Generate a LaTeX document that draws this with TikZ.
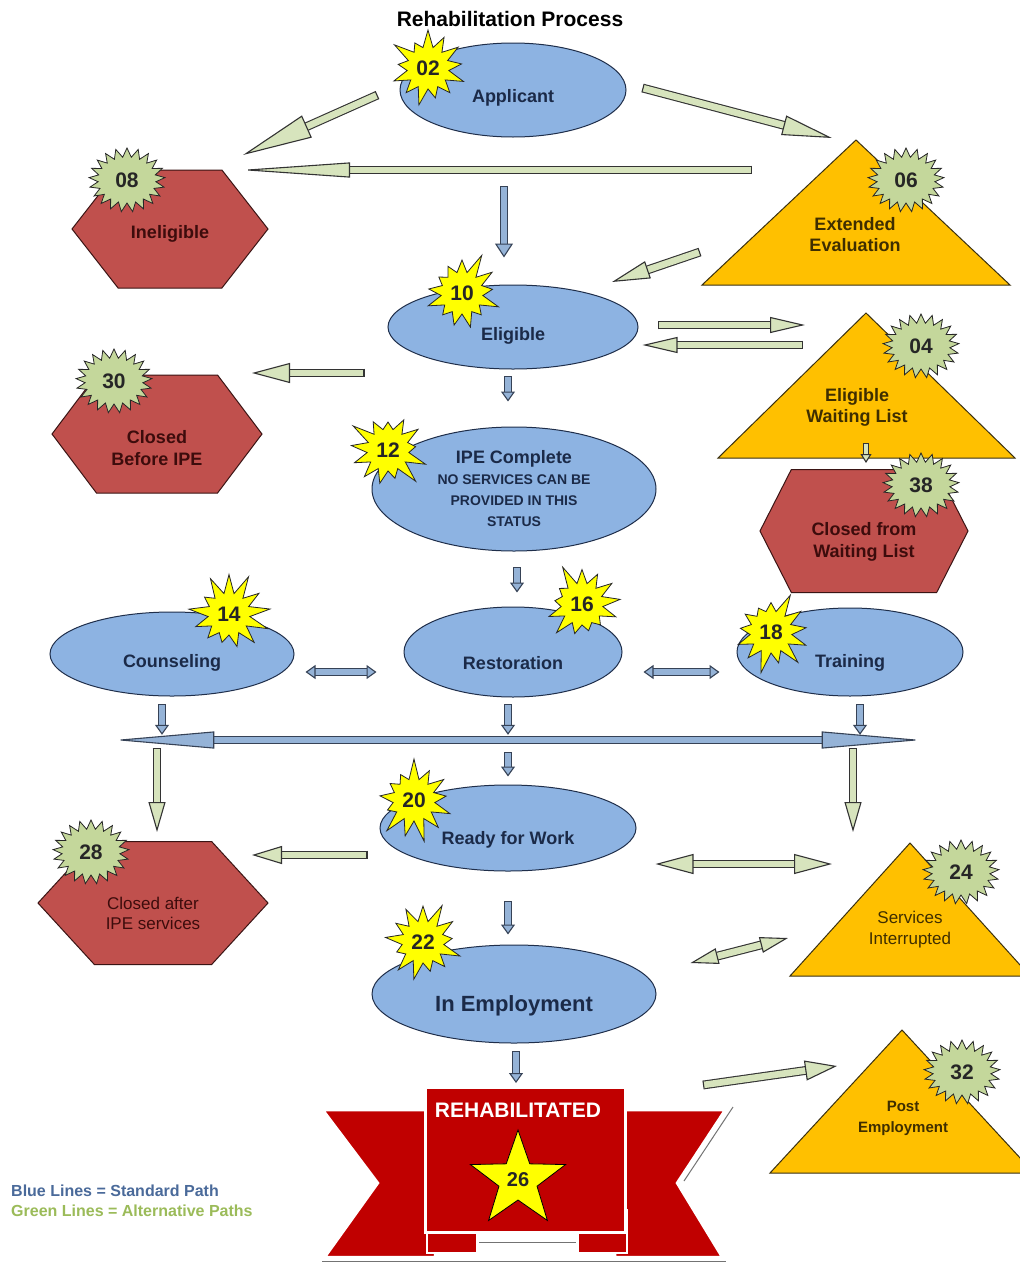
\documentclass[tikz,border=0pt]{standalone}
\usepackage{fontspec}
\setmainfont{Liberation Sans}
\usetikzlibrary{positioning,arrows.meta,shapes.geometric,shapes.symbols,calc}

\definecolor{ellblue}{HTML}{8DB3E2}
\definecolor{ellline}{HTML}{1F2E4A}
\definecolor{ellink}{HTML}{1B2A48}
\definecolor{hexred}{HTML}{C0504D}
\definecolor{hexline}{HTML}{3A1414}
\definecolor{hexink}{HTML}{3D0C0C}
\definecolor{triorange}{HTML}{FFC000}
\definecolor{triline}{HTML}{3A3010}
\definecolor{triink}{HTML}{3F2E00}
\definecolor{burstyel}{HTML}{FFFF00}
\definecolor{burstgrn}{HTML}{C4D79B}
\definecolor{gfill}{HTML}{D7E4BD}
\definecolor{gline}{HTML}{333333}
\definecolor{bfill}{HTML}{95B3D7}
\definecolor{bline}{HTML}{364256}
\definecolor{ribred}{HTML}{C00000}
\definecolor{legblue}{HTML}{4A6A9A}
\definecolor{leggreen}{HTML}{9BBB59}

\begin{document}
\begin{tikzpicture}[x=1pt, y=-1pt,
    state/.style={ellipse, draw=ellline, line width=1pt, fill=ellblue, inner sep=0pt,
                  text=ellink, align=center, font=\bfseries\fontsize{18}{21}\selectfont},
    drop/.style={text height=#1, text depth=0pt},
    hex/.style={signal, signal to=east and west, draw=hexline, line width=1pt,
                fill=hexred, inner sep=0pt},
    hexlab/.style={text=hexink, align=center, font=\bfseries\fontsize{18}{22}\selectfont},
    tri/.style={draw=triline, line width=1pt, fill=triorange},
    trilab/.style={text=triink, align=center, font=\bfseries\fontsize{18}{21}\selectfont},
    burst/.style={starburst, draw=black!85, line width=.8pt, inner sep=0pt, text=black!85,
                  font=\bfseries\fontsize{21}{24}\selectfont},
    yburst/.style={burst, fill=burstyel, starburst points=13, starburst point height=22pt,
                   minimum width=86pt, minimum height=86pt},
    gburst/.style={burst, fill=burstgrn, starburst points=21, starburst point height=9pt,
                   random starburst=0, minimum width=76pt, minimum height=64pt},
    ribbon/.style={fill=ribred, draw=white, line width=2.5pt},
    ribshade/.style={draw=black!55, line width=1pt},
    bshaft/.style={draw=bline, line width=1.1pt, double=bfill, double distance=5.6pt},
    barr/.style 2 args={bshaft, {Bar[width=7.8pt,line width=1.1pt]}-{Triangle[length=#1,width=#2,fill=bfill,line width=1.1pt]}},
    bdbl/.style 2 args={bshaft, {Triangle[length=#1,width=#2,fill=bfill,line width=1.1pt]}-{Triangle[length=#1,width=#2,fill=bfill,line width=1.1pt]}},
    gshaft/.style={draw=gline, line width=1.1pt, double=gfill, double distance=6.6pt},
    garr/.style 2 args={gshaft, {Bar[width=8.8pt,line width=1.1pt]}-{Triangle[length=#1,width=#2,fill=gfill,line width=1.1pt]}},
    gdbl/.style 2 args={gshaft, {Triangle[length=#1,width=#2,fill=gfill,line width=1.1pt]}-{Triangle[length=#1,width=#2,fill=gfill,line width=1.1pt]}}
]
\useasboundingbox[fill=white] (0,0) rectangle (1020,1264);

\node[font=\bfseries\fontsize{21}{24}\selectfont] (title) at (510,19) {Rehabilitation Process};

\node[state, drop=25pt, minimum width=226pt, minimum height=94pt] (app) at (513,90) {Applicant};
\node[state, drop=27pt, minimum width=250pt, minimum height=84pt] (elig) at (513,327) {Eligible};
\node[state, minimum width=284pt, minimum height=124pt] (ipe) at (514,489)
     {IPE Complete\\ \fontsize{14}{18}\selectfont NO SERVICES CAN BE\\ \fontsize{14}{18}\selectfont PROVIDED IN THIS\\ \fontsize{14}{18}\selectfont STATUS};
\node[state, drop=27pt, minimum width=244pt, minimum height=84pt] (couns) at (172,654) {Counseling};
\node[state, drop=35pt, minimum width=218pt, minimum height=90pt] (resto) at (513,652) {Restoration};
\node[state, drop=31pt, minimum width=226pt, minimum height=88pt] (train) at (850,652) {Training};
\node[state, drop=33pt, minimum width=256pt, minimum height=86pt] (ready) at (508,828) {Ready for Work};
\node[state, drop=35pt, minimum width=284pt, minimum height=98pt,
      font=\bfseries\fontsize{22}{26}\selectfont] (emp) at (514,994) {In Employment};

\node[hex, minimum width=196pt, minimum height=118pt, signal pointer angle=104] (inel) at (170,229) {};
\node[hexlab] (inel-t) at ([yshift=-5pt]inel) {Ineligible};
\node[hex, minimum width=210pt, minimum height=118pt, signal pointer angle=106] (cbi) at (157,434) {};
\node[hexlab] (cbi-t) at ([yshift=-14pt]cbi) {Closed\\Before IPE};
\node[hex, minimum width=208pt, minimum height=123pt, signal pointer angle=126] (cwl) at (864,531) {};
\node[hexlab] (cwl-t) at ([yshift=-11pt]cwl) {Closed from\\Waiting List};
\node[hex, minimum width=230pt, minimum height=123pt, signal pointer angle=95] (cai) at (153,903) {};
\node[hexlab, font=\fontsize{17}{20}\selectfont] (cai-t) at ([yshift=-10pt]cai) {Closed after\\IPE services};

\coordinate (ext-top) at (856,140);
\draw[tri] (ext-top) -- ++(154,145) -- ++(-308,0) -- cycle;
\node[trilab] (ext) at (855,235) {Extended\\Evaluation};
\coordinate (ewl-top) at (866,313);
\draw[tri] (ewl-top) -- ++(149,145) -- ++(-297,0) -- cycle;
\node[trilab] (ewl) at (857,407) {Eligible\\Waiting List};
\coordinate (sint-top) at (910,843);
\draw[tri] (sint-top) -- ++(120,133) -- ++(-240,0) -- cycle;
\node[trilab, font=\fontsize{17}{21}\selectfont] (sint) at (910,930) {Services\\Interrupted};
\coordinate (post-top) at (902,1030);
\draw[tri] (post-top) -- ++(132,143) -- ++(-264,0) -- cycle;
\node[trilab, font=\bfseries\fontsize{15}{21}\selectfont] (post) at (903,1118) {Post\\Employment};

\path[ribbon] (323,1110) -- (435,1110) -- (435,1257) -- (325,1257) -- (378,1183) -- cycle;
\path[ribbon] (725,1110) -- (615,1110) -- (615,1257) -- (722,1257) -- (677,1183) -- cycle;
\draw[ribshade] (733,1107) -- (684,1181);
\draw[ribshade] (322,1261) -- (726,1261);
\path[ribbon] (427,1210) rectangle (477,1253);
\path[ribbon] (578,1210) rectangle (627,1253);
\draw[ribshade] (479,1242) -- (576,1242);
\node[rectangle, fill=ribred, draw=white, line width=3pt, inner sep=0pt,
      minimum width=200pt, minimum height=145pt] (rehab) at (525,1160) {};
\node[text=white, font=\bfseries\fontsize{21}{24}\selectfont] (rehab-t) at (518,1110) {REHABILITATED};
\node[star, star points=5, star point ratio=2.5, minimum size=100pt, inner sep=0pt,
      fill=burstyel, draw=black, line width=.8pt, text=black!85,
      font=\bfseries\fontsize{20}{22}\selectfont] (s26) at (518,1180) {26};

\foreach \n/\x/\y [count=\i] in {02/428/68, 10/462/293, 12/388/450, 14/229/614,
                                 16/582/604, 18/771/632, 20/414/800, 22/423/942}
  \node[yburst, random starburst=\i] (b\n) at (\x,\y) {\n};
\foreach \n/\x/\y in {08/127/180, 06/906/180, 04/921/346, 30/114/381,
                      38/921/485, 28/91/852, 24/961/872, 32/962/1072}
  \node[gburst] (b\n) at (\x,\y) {\n};

\node[anchor=west, inner sep=0pt, text=legblue, font=\bfseries\fontsize{16}{19}\selectfont]
     (leg-b) at (11,1191) {Blue Lines = Standard Path};
\node[anchor=west, inner sep=0pt, text=leggreen, font=\bfseries\fontsize{16}{19}\selectfont]
     (leg-g) at (11,1211) {Green Lines = Alternative Paths};

\node[inner sep=0pt, minimum width=807pt, minimum height=8pt] (hub) at (518,740) {};

\draw[barr={14pt}{18pt}, shorten <=48pt, shorten >=27pt] ($(app.south)+(-9,0)$) -- ($(elig.north)+(-9,0)$);
\draw[barr={10pt}{14pt}, shorten <=6pt, shorten >=25pt] ($(elig.south)+(-5,0)$) -- ($(ipe.north)+(-6,0)$);
\draw[barr={10pt}{14pt}, shorten <=15pt, shorten >=14pt] ($(ipe.south)+(3,0)$) -- ($(resto.north)+(4,0)$);
\draw[bdbl={10pt}{14pt}, shorten <=11pt, shorten >=27pt] ($(couns.east)+(0,18)$) -- ($(resto.west)+(0,20)$);
\draw[bdbl={10pt}{14pt}, shorten <=21pt, shorten >=17pt] ($(resto.east)+(0,20)$) -- ($(train.west)+(0,20)$);
\draw[barr={10pt}{14pt}, shorten <=7pt, shorten >=1pt] ($(couns.south)+(-10,0)$) -- ($(couns.south |- hub.north)+(-10,0)$);
\draw[barr={10pt}{14pt}, shorten <=6pt, shorten >=1pt] ($(resto.south)+(-5,0)$) -- ($(resto.south |- hub.north)+(-5,0)$);
\draw[barr={10pt}{14pt}, shorten <=7pt, shorten >=1pt] ($(train.south)+(10,0)$) -- ($(train.south |- hub.north)+(10,0)$);
\draw[bdbl={100pt}{17pt}] (hub.west) -- (hub.east);
\draw[barr={10pt}{14pt}, shorten <=8pt, shorten >=8pt] (hub.south -| ready.north) -- (ready.north);
\draw[barr={10pt}{14pt}, shorten <=29pt, shorten >=10pt] (ready.south) -- ($(emp.north)+(-6,0)$);
\draw[barr={10pt}{14pt}, shorten <=7pt, shorten >=3pt] ($(emp.south)+(2,0)$) -- ($(rehab.north)+(-9,0)$);

\draw[garr={70pt}{24pt}] ($(app.west)+(-22,5)$) -- ($(inel)+(73,-74)$);
\draw[garr={50pt}{20pt}] ($(app.east)+(16,-2)$) -- ($(ext-top)+(-24,-2)$);
\draw[garr={110pt}{15pt}] ($(ext-top)+(-104,30)$) -- ($(inel)+(70,-59)$);
\draw[garr={38pt}{18pt}] ($(ext-top)+(-156,112)$) -- ($(elig)+(99,-45)$);
\draw[garr={35pt}{16pt}] ($(elig.east)+(19,-2)$) -- ($(ewl-top)+(-61,12)$);
\draw[garr={35pt}{16pt}] ($(ewl-top)+(-63,32)$) -- ($(elig.east)+(4,18)$);
\draw[garr={38pt}{20pt}] ($(elig.west)+(-23,46)$) -- ($(cbi)+(95,-61)$);
\draw[gshaft, double distance=4pt, {Bar[width=6.2pt,line width=1.1pt]}-{Triangle[length=9pt,width=11pt,fill=gfill,line width=1.1pt]}]
     ($(ewl-top)+(0,130)$) -- ($(cwl)+(2,-68)$);
\draw[garr={30pt}{17pt}] ($(couns.south |- hub.south)+(-15,4)$) -- ($(cai)+(4,-71)$);
\draw[garr={30pt}{17pt}] ($(train.south |- hub.south)+(3,4)$) -- ($(sint-top)+(-57,-11)$);
\draw[garr={30pt}{18pt}] ($(ready.west)+(-12,27)$) -- ($(cai)+(99,-48)$);
\draw[gdbl={38pt}{20pt}] ($(ready.east)+(19,36)$) -- ($(sint-top)+(-78,21)$);
\draw[gdbl={28pt}{16pt}] ($(emp.east)+(34,-31)$) -- ($(sint-top)+(-122,95)$);
\draw[garr={32pt}{20pt}] ($(rehab)+(178,-75)$) -- ($(post-top)+(-65,36)$);
\end{tikzpicture}
\end{document}
